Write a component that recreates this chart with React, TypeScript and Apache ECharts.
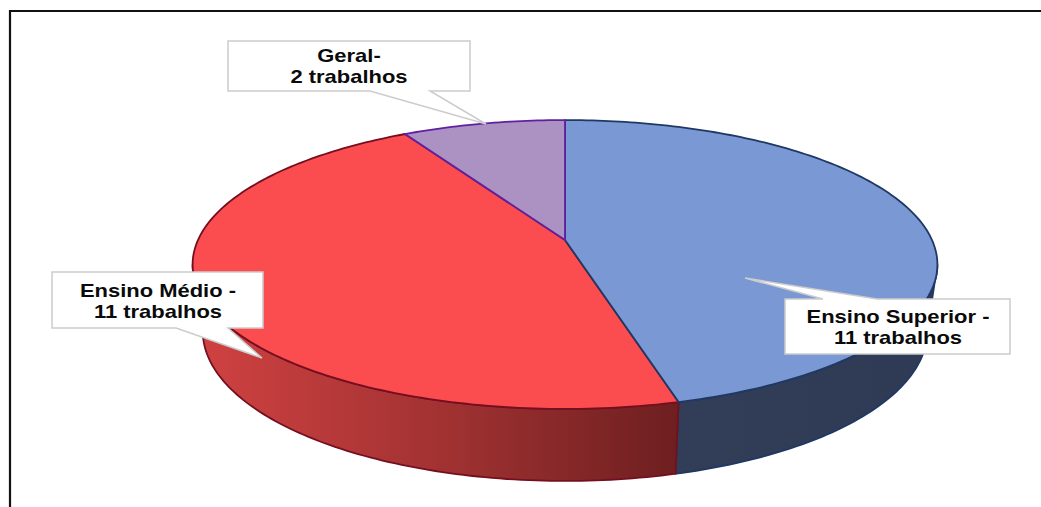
import React, { useEffect, useRef } from "react";
import * as echarts from "echarts";

const categories = ["Ensino Superior", "Ensino Médio", "Geral"];
const values = [11, 11, 2];
const topColors = ["#7a98d4", "#fb4d4f", "#ab92c2"];
const edgeColors = ["#1f3864", "#750f20", "#6020a0"];
const drawOrder = [2, 1, 3];
const labelLines = [
  ["Ensino Superior -", "11 trabalhos"],
  ["Ensino Médio -", "11 trabalhos"],
  ["Geral-", "2 trabalhos"],
];
const calloutRects = [
  [785, 299, 1010, 354],
  [52, 272, 263, 328],
  [228, 41, 470, 91],
];
const calloutTails = [
  [[877, 299], [745, 278], [823, 299]],
  [[228, 328], [262, 358], [176, 328]],
  [[430, 91], [486, 124], [370, 91]],
];
const textCentres = [
  [898, 317, 338],
  [158, 291, 312],
  [349, 56, 77],
];

const K = 0.1696;
const VISIBLE_FROM = 99.8;
const VISIBLE_TO = 260.2;
const CX = 565;

function project(deg: number, rx: number, ry: number, apexY: number): number[] {
  const t = (deg * Math.PI) / 180;
  const u = Math.sin(t);
  const v = Math.cos(t);
  const w = 1 + K * v;
  return [CX + (rx * u) / w, apexY - (ry * v) / w];
}
const topPoint = (deg: number) => project(deg, 367, 140.3, 240);
const basePoint = (deg: number) => project(deg, 357, 145.6, 305.6);

function arc(a: number, b: number, fn: (d: number) => number[]): number[][] {
  const n = Math.max(2, Math.ceil(Math.abs(b - a)));
  const pts: number[][] = [];
  for (let i = 0; i <= n; i++) pts.push(fn(a + ((b - a) * i) / n));
  return pts;
}

function sliceStart(i: number): number {
  const total = values.reduce((s, x) => s + x, 0);
  return (values.slice(0, i).reduce((s, x) => s + x, 0) / total) * 360;
}

const wallFills = [
  () =>
    new echarts.graphic.LinearGradient(677, 0, 927, 0, [
      { offset: 0, color: "#323d58" },
      { offset: 1, color: "#2f3a54" },
    ], true),
  () =>
    new echarts.graphic.LinearGradient(203, 0, 677, 0, [
      { offset: 0, color: "#cf4141" },
      { offset: 0.5, color: "#a23232" },
      { offset: 1, color: "#6e1f20" },
    ], true),
  () => "#8a74a0",
];

function renderItem(params: any, api: any) {
  const i = params.dataIndex;
  const a1 = sliceStart(i);
  const a2 = a1 + (api.value(0) / values.reduce((s, x) => s + x, 0)) * 360;
  const children: any[] = [];
  const wa = Math.max(a1, VISIBLE_FROM);
  const wb = Math.min(a2, VISIBLE_TO);
  if (wb > wa) {
    children.push({
      type: "polygon",
      z2: 0,
      shape: { points: [...arc(wa, wb, topPoint), ...arc(wb, wa, basePoint)] },
      style: { fill: wallFills[i](), stroke: edgeColors[i], lineWidth: 1.8 },
    });
  }
  children.push({
    type: "polygon",
    z2: drawOrder[i],
    shape: { points: [[CX, 240], ...arc(a1, a2, topPoint)] },
    style: { fill: topColors[i], stroke: edgeColors[i], lineWidth: 1.8 },
  });
  return { type: "group", children };
}

function callout(i: number): any[] {
  const [x0, y0, x1, y1] = calloutRects[i];
  const tail = calloutTails[i];
  const atBottom = tail[0][1] === y1;
  const points = atBottom
    ? [[x0, y0], [x1, y0], [x1, y1], ...tail, [x0, y1]]
    : [[x0, y0], ...tail.slice().reverse(), [x1, y0], [x1, y1], [x0, y1]];
  const [tx, ty1, ty2] = textCentres[i];
  const text = (s: string, y: number) => ({
    type: "text",
    x: tx,
    y,
    scaleX: 1.22,
    z: 11,
    style: {
      text: s,
      fill: "#0a0a0a",
      font: 'bold 18px "Liberation Sans", Arial, sans-serif',
      textAlign: "center",
      textVerticalAlign: "middle",
    },
  });
  return [
    {
      type: "polygon",
      z: 10,
      shape: { points },
      style: { fill: "#ffffff", stroke: "#cccccc", lineWidth: 1.5 },
    },
    text(labelLines[i][0], ty1),
    text(labelLines[i][1], ty2),
  ];
}

export default function App() {
  const ref = useRef<HTMLDivElement>(null);
  useEffect(() => {
    document.body.style.margin = "0";
    const chart = echarts.init(ref.current!, undefined, { renderer: "svg" });
    chart.setOption({
      animation: false,
      backgroundColor: "#ffffff",
      series: [
        {
          type: "custom",
          coordinateSystem: "none",
          name: "Trabalhos",
          data: categories.map((name, i) => ({ name, value: [values[i]] })),
          renderItem,
          silent: true,
        },
      ],
      graphic: [
        {
          type: "polyline",
          z: 12,
          shape: { points: [[10, 507], [10, 11], [1041, 11]] },
          style: { stroke: "#111111", lineWidth: 2.2, fill: "none" },
        },
        ...categories.flatMap((_, i) => callout(i)),
      ],
    });
    return () => chart.dispose();
  }, []);
  return <div ref={ref} style={{ width: 1041, height: 507 }} />;
}
